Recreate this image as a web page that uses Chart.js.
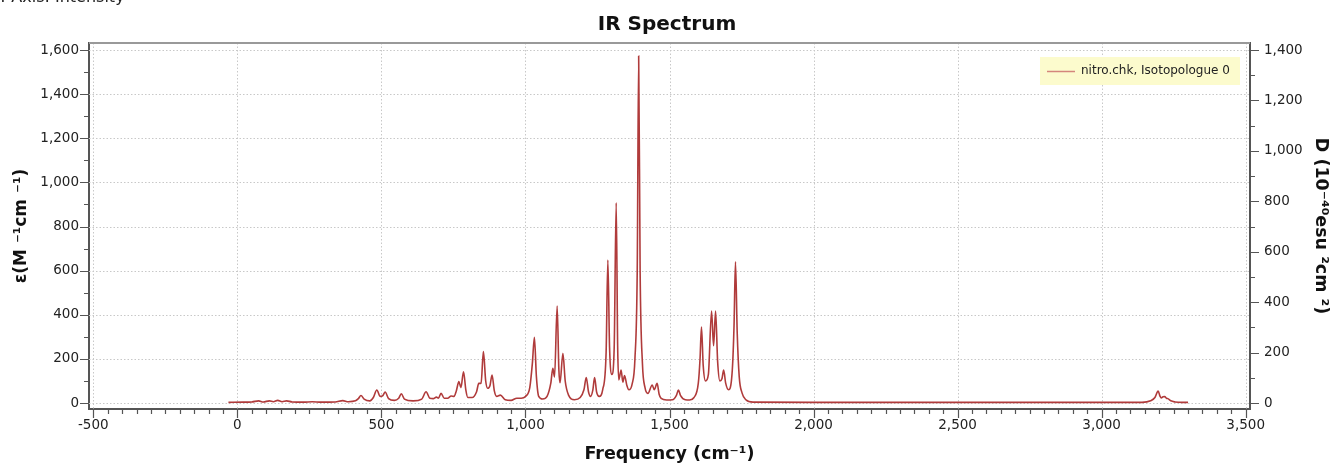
<!DOCTYPE html>
<html>
<head>
<meta charset="utf-8">
<script src="https://cdn.jsdelivr.net/npm/chart.js@4.4.1/dist/chart.umd.min.js"></script>
<style>
body{margin:0;background:#fff;overflow:hidden}
#wrap{position:relative;width:1334px;height:464px}
#cut{position:absolute;left:-2px;top:-13px;font:16px "DejaVu Sans",sans-serif;color:#222;white-space:nowrap}
</style>
</head>
<body>
<div id="wrap">
  <canvas id="c" width="1334" height="464"></canvas>
  <div id="cut">Y-Axis: Intensity</div>
</div>
<script>
// ===== data =====
const freq = [-31,20,50,74,90,111,125,140,155,171,190,230,260,290,340,366,385,410,420,429,440,460,472,484,496,505,513,525,545,560,569,580,610,640,655,668,680,691,698,707,718,730,742,752,760,769,776,785,793,800,815,830,838,846,854,862,869,877,884,892,900,913,930,950,970,985,1000,1015,1024,1031,1038,1046,1060,1075,1088,1095,1101,1110,1116,1120,1130,1138,1150,1170,1190,1203,1211,1219,1226,1234,1240,1247,1256,1268,1280,1286,1292,1300,1308,1315,1320,1324,1332,1338,1344,1352,1359,1370,1380,1388,1393,1398,1406,1415,1425,1440,1447,1457,1464,1471,1490,1510,1524,1531,1538,1555,1570,1585,1600,1606,1611,1617,1625,1635,1646,1653,1660,1667,1675,1682,1688,1695,1705,1718,1724,1729,1735,1742,1752,1765,1790,2000,2500,3000,3140,3170,3185,3196,3203,3207,3213,3219,3225,3230,3240,3255,3280,3300];
const eps  = [3,4,5,10,5,10,6,12,6,10,5,4,6,4,5,11,6,10,20,34,18,10,25,59,30,34,50,20,12,22,42,18,10,18,51,22,20,27,22,44,22,22,32,30,55,97,70,142,60,25,25,50,89,90,233,100,67,80,127,55,30,36,15,12,22,22,30,70,180,298,120,30,18,30,90,157,118,440,150,92,225,100,35,15,25,60,116,50,30,60,116,50,30,60,230,648,250,130,250,908,260,105,150,95,125,80,60,85,200,600,1573,600,180,70,44,82,60,89,40,21,14,15,35,59,35,15,14,25,90,200,345,170,100,130,417,260,417,190,100,110,150,90,60,150,350,640,320,120,45,15,4,3,3,3,3,10,25,54,30,23,28,29,22,20,10,5,3,3];

const xTicks  = [-500,0,500,1000,1500,2000,2500,3000,3500];
const yTicks  = [0,200,400,600,800,1000,1200,1400,1600];
const y2Ticks = [0,200,400,600,800,1000,1200,1400];
const seriesLabel = 'nitro.chk, Isotopologue 0';

const FONT = '"DejaVu Sans", Verdana, sans-serif';
const fmt = new Intl.NumberFormat('en-US');
const pts = freq.map((f,i)=>({x:f,y:eps[i]}));

// ===== extra drawing: dotted grid, minor/major tick marks, top border, legend =====
const decor = {
  id:'decor',
  beforeDatasetsDraw(chart){
    const {ctx, chartArea:a, scales} = chart;
    ctx.save();
    ctx.strokeStyle = '#c8c8c8';
    ctx.lineWidth = 1;
    ctx.setLineDash([1.5,2]);
    ctx.beginPath();
    xTicks.forEach(v=>{
      const p = Math.round(scales.x.getPixelForValue(v))+0.5;
      if(p <= a.left+2 || p >= a.right-2) return;
      ctx.moveTo(p,a.top); ctx.lineTo(p,a.bottom);
    });
    yTicks.forEach(v=>{
      const p = Math.round(scales.y.getPixelForValue(v))+0.5;
      ctx.moveTo(a.left,p); ctx.lineTo(a.right,p);
    });
    ctx.stroke();
    ctx.restore();
  },
  afterDraw(chart){
    const {ctx, chartArea:a, scales} = chart;
    ctx.save();
    ctx.strokeStyle = '#555';
    ctx.lineWidth = 1.2;
    ctx.beginPath();
    const sx = scales.x;
    for(let i=0;i<xTicks.length;i++){
      for(let k=0;k<10;k++){
        const val = xTicks[i] + k*50;
        if(val > xTicks[xTicks.length-1]) break;
        const p = Math.round(sx.getPixelForValue(val))+0.5;
        if(p < a.left || p > a.right) continue;
        const len = k===0 ? 9 : 5;
        ctx.moveTo(p,a.bottom); ctx.lineTo(p,a.bottom+len);
      }
    }
    const sy = scales.y;
    for(let i=0;i<yTicks.length;i++){
      for(let k=0;k<2;k++){
        const val = yTicks[i] + k*100;
        if(val > yTicks[yTicks.length-1]) break;
        const p = Math.round(sy.getPixelForValue(val))+0.5;
        const len = k===0 ? 9 : 5;
        ctx.moveTo(a.left,p); ctx.lineTo(a.left-len,p);
      }
    }
    const sy2 = scales.y2;
    for(let i=0;i<y2Ticks.length;i++){
      for(let k=0;k<2;k++){
        const val = y2Ticks[i] + k*100;
        if(val > y2Ticks[y2Ticks.length-1]) break;
        const p = Math.round(sy2.getPixelForValue(val))+0.5;
        const len = k===0 ? 9 : 5;
        ctx.moveTo(a.right,p); ctx.lineTo(a.right+len,p);
      }
    }
    ctx.stroke();
    // top border
    ctx.strokeStyle = '#999';
    ctx.lineWidth = 2;
    ctx.beginPath(); ctx.moveTo(a.left,a.top); ctx.lineTo(a.right,a.top); ctx.stroke();
    // legend
    const lx = 1040, ly = 57, lw = 200, lh = 28;
    ctx.fillStyle = '#fcfbcd';
    ctx.fillRect(lx,ly,lw,lh);
    ctx.strokeStyle = '#d4867c';
    ctx.lineWidth = 1.5;
    ctx.beginPath(); ctx.moveTo(lx+7,ly+14.5); ctx.lineTo(lx+35,ly+14.5); ctx.stroke();
    ctx.fillStyle = '#222';
    ctx.font = '12px '+FONT;
    ctx.textBaseline = 'middle';
    ctx.fillText(chart.data.datasets[0].label, lx+41, ly+14);
    ctx.restore();
  }
};

const setTicks = list => scale => { scale.ticks = list.map(v=>({value:v})); };

new Chart(document.getElementById('c'),{
  type:'line',
  data:{datasets:[{
    label:seriesLabel,
    data:pts,
    borderColor:'#b03b3b',
    borderWidth:1.6,
    pointRadius:0,
    cubicInterpolationMode:'monotone',
    fill:false
  }]},
  options:{
    responsive:false,
    animation:false,
    layout:{padding:0},
    plugins:{
      legend:{display:false},
      tooltip:{enabled:false},
      title:{display:true,text:'IR Spectrum',color:'#111',
        font:{family:FONT,size:20,weight:'bold',lineHeight:1.2},
        padding:{top:13,bottom:6}}
    },
    scales:{
      x:{
        type:'linear', min:-515, max:3515,
        afterBuildTicks:setTicks(xTicks),
        afterFit:s=>{s.height=55;},
        grid:{display:false,drawTicks:false},
        border:{display:true,color:'#555',width:2},
        ticks:{padding:8,color:'#222',font:{family:FONT,size:13.5},callback:v=>fmt.format(v)},
        title:{display:true,text:'Frequency (cm\u207B\u00B9)',color:'#111',
          font:{family:FONT,size:17.5,weight:'bold',lineHeight:1.0},padding:{top:0,bottom:1}}
      },
      y:{
        type:'linear', position:'left', min:-27, max:1632,
        afterBuildTicks:setTicks(yTicks),
        afterFit:s=>{s.width=89;},
        grid:{display:false,drawTicks:false},
        border:{display:true,color:'#555',width:2},
        ticks:{padding:10,color:'#222',font:{family:FONT,size:13.5},callback:v=>fmt.format(v)},
        title:{display:true,text:'\u03B5(M \u207B\u00B9cm \u207B\u00B9)',color:'#111',
          font:{family:FONT,size:17,weight:'bold',lineHeight:1.2},padding:{top:11,bottom:0}}
      },
      y2:{
        type:'linear', position:'right', min:-23.6, max:1428,
        afterBuildTicks:setTicks(y2Ticks),
        afterFit:s=>{s.width=84;},
        grid:{display:false,drawTicks:false},
        border:{display:true,color:'#555',width:2},
        ticks:{padding:14,color:'#222',font:{family:FONT,size:13.5},callback:v=>fmt.format(v)},
        title:{display:true,text:'D (10\u207B\u2074\u2070esu \u00B2cm \u00B2)',color:'#111',
          font:{family:FONT,size:17.5,weight:'bold',lineHeight:1.2},padding:{top:3,bottom:0}}
      }
    }
  },
  plugins:[decor]
});
</script>
</body>
</html>
